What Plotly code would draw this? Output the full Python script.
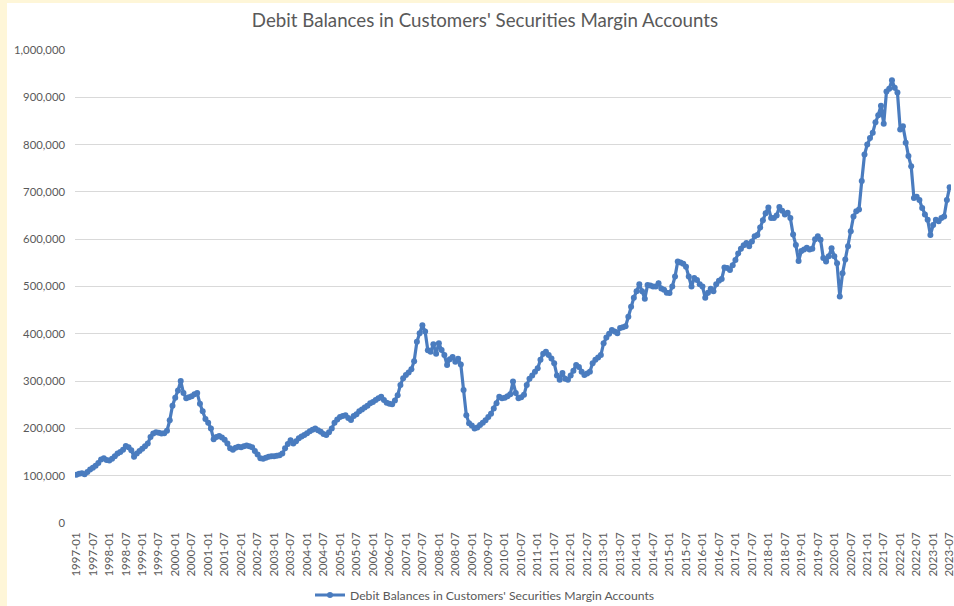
import plotly.graph_objects as go

# Monthly debit balances in customers' securities margin accounts ($ millions)
first_year = 1997
debit_balances = [
    # 1997
    102000, 104000, 105000, 103000, 108000, 113000, 117000, 121000, 127000, 134000, 137000, 133000,
    # 1998
    132000, 136000, 141000, 147000, 150000, 155000, 163000, 160000, 154000, 140000, 147000, 152000,
    # 1999
    157000, 162000, 168000, 182000, 189000, 192000, 191000, 189000, 190000, 195000, 217000, 248000,
    # 2000
    265000, 280000, 300000, 275000, 264000, 266000, 268000, 272000, 275000, 252000, 236000, 220000,
    # 2001
    212000, 200000, 177000, 182000, 184000, 181000, 176000, 168000, 158000, 155000, 159000, 161000,
    # 2002
    160000, 162000, 164000, 162000, 160000, 152000, 145000, 137000, 136000, 138000, 140000, 141000,
    # 2003
    141000, 142000, 143000, 147000, 158000, 167000, 175000, 168000, 173000, 179000, 183000, 186000,
    # 2004
    190000, 194000, 197000, 200000, 196000, 193000, 188000, 186000, 192000, 200000, 212000, 219000,
    # 2005
    224000, 226000, 228000, 222000, 218000, 226000, 230000, 236000, 240000, 244000, 248000, 253000,
    # 2006
    256000, 260000, 264000, 267000, 260000, 254000, 252000, 251000, 259000, 270000, 292000, 306000,
    # 2007
    313000, 318000, 325000, 342000, 383000, 401000, 418000, 405000, 365000, 362000, 378000, 358000,
    # 2008
    380000, 366000, 355000, 334000, 346000, 351000, 341000, 347000, 335000, 281000, 228000, 211000,
    # 2009
    206000, 200000, 202000, 207000, 212000, 217000, 224000, 231000, 242000, 253000, 267000, 264000,
    # 2010
    265000, 268000, 272000, 299000, 275000, 264000, 266000, 271000, 292000, 305000, 312000, 320000,
    # 2011
    327000, 345000, 358000, 362000, 355000, 348000, 338000, 312000, 303000, 317000, 305000, 303000,
    # 2012
    312000, 322000, 334000, 330000, 320000, 313000, 316000, 320000, 338000, 345000, 350000, 355000,
    # 2013
    380000, 392000, 400000, 408000, 405000, 401000, 412000, 414000, 416000, 436000, 457000, 476000,
    # 2014
    490000, 505000, 490000, 474000, 503000, 502000, 500000, 500000, 507000, 496000, 493000, 487000,
    # 2015
    486000, 500000, 521000, 553000, 551000, 548000, 542000, 521000, 500000, 518000, 514000, 505000,
    # 2016
    500000, 476000, 487000, 495000, 490000, 505000, 512000, 516000, 540000, 539000, 535000, 545000,
    # 2017
    556000, 570000, 580000, 587000, 592000, 585000, 595000, 606000, 609000, 625000, 640000, 655000,
    # 2018
    667000, 645000, 645000, 650000, 668000, 660000, 652000, 656000, 645000, 610000, 588000, 554000,
    # 2019
    575000, 578000, 582000, 578000, 580000, 600000, 606000, 599000, 560000, 553000, 564000, 581000,
    # 2020
    564000, 549000, 479000, 528000, 557000, 585000, 617000, 648000, 659000, 663000, 723000, 779000,
    # 2021
    800000, 814000, 825000, 847000, 862000, 882000, 844000, 912000, 918000, 936000, 920000, 910000,
    # 2022
    832000, 839000, 804000, 776000, 754000, 687000, 690000, 683000, 666000, 652000, 641000, 609000,
    # 2023
    630000, 641000, 638000, 645000, 648000, 683000, 710000,
]

months = [f"{first_year + i // 12}-{i % 12 + 1:02d}" for i in range(len(debit_balances))]
tick_labels = months[::6]
y_ticks = list(range(0, 1000001, 100000))

series_name = "Debit Balances in Customers' Securities Margin Accounts"
blue = "#4A7CBF"
grey_text = "#595959"
font_family = "Lato, 'Liberation Sans', Arial, sans-serif"

W, H = 954, 606
m_l, m_r, m_t, m_b = 75, 3, 50, 83

fig = go.Figure()
fig.add_trace(go.Scatter(
    x=months,
    y=debit_balances,
    mode="lines+markers",
    name=series_name,
    line=dict(color=blue, width=3.2),
    marker=dict(color=blue, size=6, symbol="circle"),
))

plot_w = W - m_l - m_r
plot_h = H - m_t - m_b

# Cream strips along the left and top edges of the page
shapes = [
    dict(type="rect", xref="paper", yref="paper",
         x0=-m_l / plot_w, x1=(7 - m_l) / plot_w,
         y0=-m_b / plot_h, y1=(H - m_b) / plot_h,
         fillcolor="#FEF6D8", line=dict(width=0), layer="below"),
    dict(type="rect", xref="paper", yref="paper",
         x0=-m_l / plot_w, x1=(W - m_l) / plot_w,
         y0=(H - m_b - 3) / plot_h, y1=(H - m_b) / plot_h,
         fillcolor="#FEF6D8", line=dict(width=0), layer="below"),
]

fig.update_layout(
    width=W, height=H,
    margin=dict(l=m_l, r=m_r, t=m_t, b=m_b, autoexpand=False),
    paper_bgcolor="white",
    plot_bgcolor="white",
    font=dict(family=font_family, color=grey_text, size=11),
    title=dict(
        text="Debit Balances in Customers' Securities Margin Accounts",
        x=485 / W, xref="container", xanchor="center",
        y=1 - 20 / H, yref="container", yanchor="middle",
        font=dict(size=18.7, color=grey_text, family=font_family),
    ),
    showlegend=True,
    legend=dict(
        orientation="h",
        x=485 / W, xref="container", xanchor="center",
        y=1 - 595 / H, yref="container", yanchor="middle",
        font=dict(size=12.2, color=grey_text, family=font_family),
        bgcolor="rgba(0,0,0,0)",
    ),
    shapes=shapes,
    xaxis=dict(
        type="category",
        range=[-0.5, len(months) - 0.5],
        tickmode="array",
        tickvals=tick_labels,
        ticktext=tick_labels,
        tickangle=-90,
        showgrid=False,
        showline=False,
        zeroline=False,
        ticks="",
        ticklabelstandoff=6,
        automargin=False,
        tickfont=dict(size=11.5, color=grey_text, family=font_family),
    ),
    yaxis=dict(
        range=[0, 1000000],
        tickmode="array",
        tickvals=y_ticks,
        ticktext=[f"{v:,}" for v in y_ticks],
        showgrid=True,
        gridcolor="#D9D9D9",
        gridwidth=1,
        zeroline=False,
        showline=False,
        ticks="",
        ticklabelstandoff=9,
        automargin=False,
        tickfont=dict(size=11.3, color=grey_text, family=font_family),
    ),
)

fig.write_html("out.html")
